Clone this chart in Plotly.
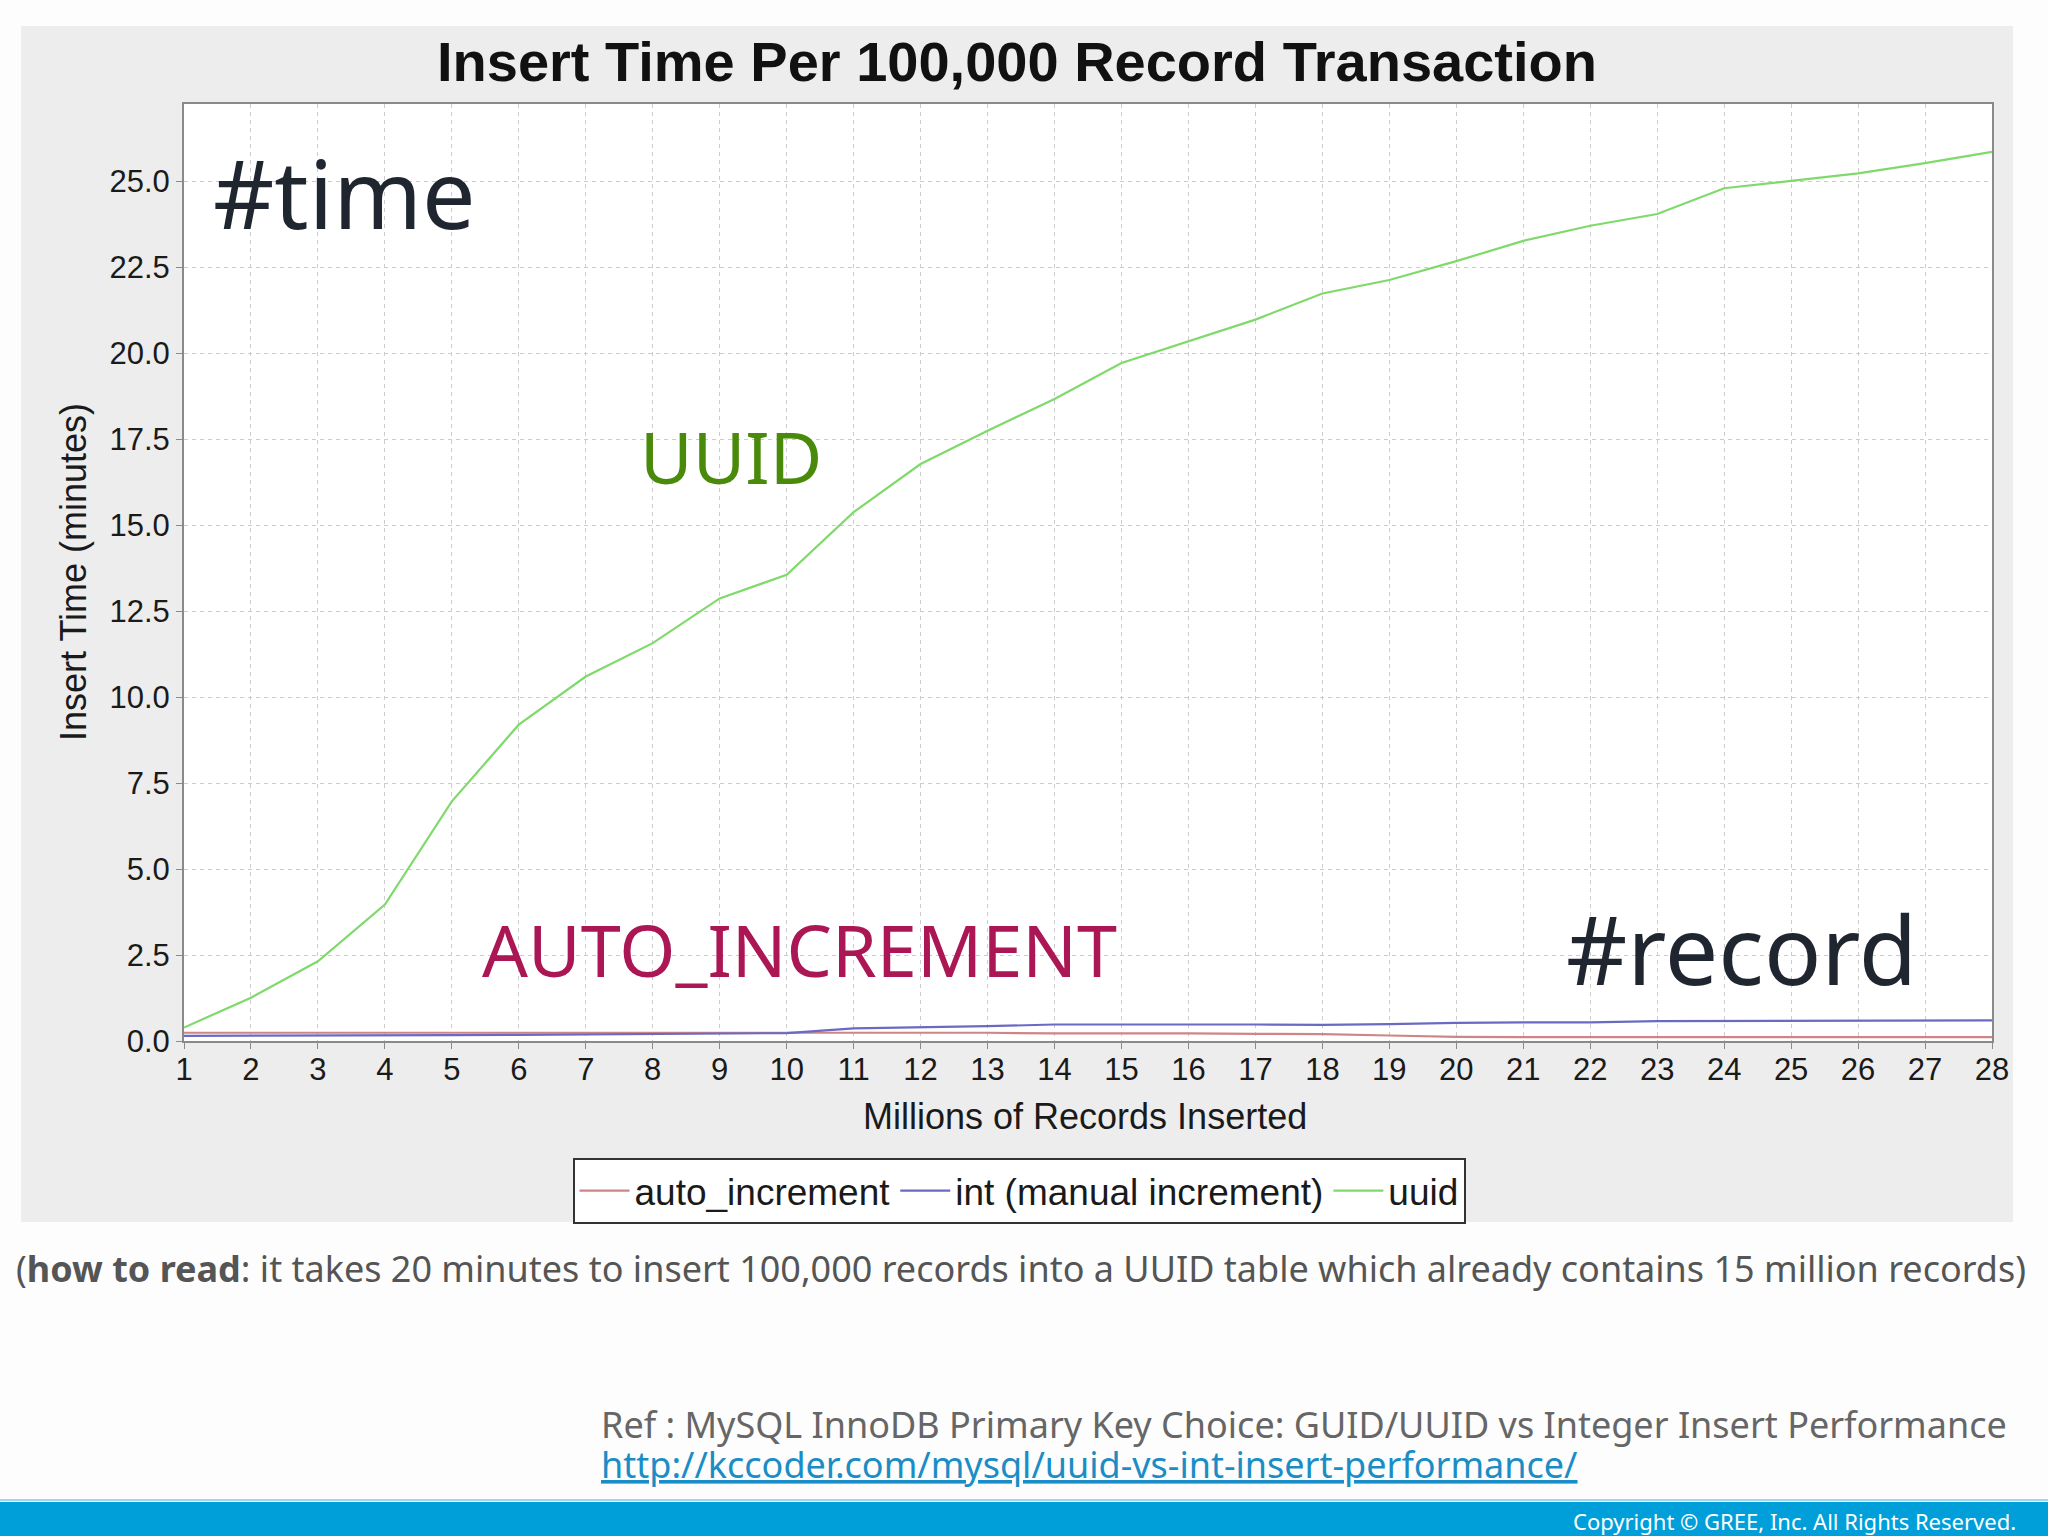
import plotly.graph_objects as go

# ---------------- data ----------------
records_millions = list(range(1, 29))
uuid_minutes = [0.39, 1.26, 2.32, 3.97, 6.97, 9.20, 10.60, 11.57, 12.87, 13.56,
                15.38, 16.78, 17.75, 18.67, 19.72, 20.35, 20.98, 21.74, 22.13, 22.68,
                23.27, 23.71, 24.05, 24.80, 25.02, 25.23, 25.53, 25.86]
auto_increment_minutes = [0.24, 0.24, 0.24, 0.25, 0.25, 0.26, 0.26, 0.26, 0.26, 0.26,
                          0.25, 0.25, 0.24, 0.22, 0.23, 0.22, 0.21, 0.20, 0.16, 0.12,
                          0.11, 0.11, 0.11, 0.11, 0.11, 0.11, 0.11, 0.11]
int_manual_minutes = [0.15, 0.15, 0.16, 0.16, 0.17, 0.18, 0.19, 0.20, 0.21, 0.23,
                      0.37, 0.39, 0.43, 0.48, 0.49, 0.48, 0.48, 0.47, 0.49, 0.53,
                      0.54, 0.54, 0.58, 0.58, 0.58, 0.59, 0.59, 0.60]
series_names = ["auto_increment", "int (manual increment)", "uuid"]
series_colors = ["#cf8585", "#6a6ac2", "#7fd96b"]

# ---------------- geometry helpers (pixel -> paper) ----------------
W, H = 2048, 1536
PL, PR, PT, PB = 184, 1992, 104, 1041


def px(x):
    return (x - PL) / (PR - PL)


def py(y):
    return (PB - y) / (PB - PT)


fig = go.Figure()
for name, vals, col in zip(series_names,
                           [auto_increment_minutes, int_manual_minutes, uuid_minutes],
                           series_colors):
    fig.add_trace(go.Scatter(x=records_millions, y=vals, mode="lines", name=name,
                             line=dict(color=col, width=2.2)))

CHART_FONT = "Liberation Sans, Arial, sans-serif"
SLIDE_FONT = "Noto Sans, Open Sans, sans-serif"

annotations = [
    dict(text="<b>Insert Time Per 100,000 Record Transaction</b>", x=px(1017), y=py(61.5),
         font=dict(family=CHART_FONT, size=56, color="#111111")),
    dict(text="Millions of Records Inserted", x=px(1085), y=py(1116),
         font=dict(family=CHART_FONT, size=36, color="#1a1a1a")),
    dict(text="Insert Time (minutes)", x=px(73), y=py(572), textangle=-90,
         font=dict(family=CHART_FONT, size=36, color="#1a1a1a")),
    dict(text="#time", x=px(344), y=py(192), font=dict(family=SLIDE_FONT, size=95, color="#1f2630")),
    dict(text="UUID", x=px(731), y=py(456), font=dict(family=SLIDE_FONT, size=72, color="#4a8a0a")),
    dict(text="AUTO_INCREMENT", x=px(799), y=py(949), font=dict(family=SLIDE_FONT, size=72, color="#ab1654")),
    dict(text="#record", x=px(1741), y=py(948), font=dict(family=SLIDE_FONT, size=95, color="#1f2630")),
    dict(text="(<b>how to read</b>: it takes 20 minutes to insert 100,000 records into a UUID table which already contains 15 million records)",
         x=px(1021), y=py(1268), font=dict(family=SLIDE_FONT, size=36, color="#555555")),
    dict(text="Ref : MySQL InnoDB Primary Key Choice: GUID/UUID vs Integer Insert Performance",
         x=px(599), y=py(1424), xanchor="left", font=dict(family=SLIDE_FONT, size=36, color="#666666")),
    dict(text="<u>http://kccoder.com/mysql/uuid-vs-int-insert-performance/</u>",
         x=px(599), y=py(1464), xanchor="left", font=dict(family=SLIDE_FONT, size=36, color="#1b8dc6")),
    dict(text="Copyright © GREE, Inc. All Rights Reserved.", x=px(2018), y=py(1521), xanchor="right",
         font=dict(family=SLIDE_FONT, size=22, color="#ffffff")),
]
for a in annotations:
    a.setdefault("xanchor", "center")
    a.update(xref="paper", yref="paper", yanchor="middle", showarrow=False)

shapes = [
    # gray chart panel
    dict(type="rect", xref="paper", yref="paper", x0=px(21), x1=px(2013), y0=py(1222), y1=py(26),
         fillcolor="#ededed", line=dict(width=0), layer="below"),
    # white plotting area on the panel
    dict(type="rect", xref="paper", yref="paper", x0=0, x1=1, y0=0, y1=1,
         fillcolor="#ffffff", line=dict(width=0), layer="below"),
    # footer bar
    dict(type="rect", xref="paper", yref="paper", x0=px(0), x1=px(2048), y0=py(1536), y1=py(1502),
         fillcolor="#009fda", line=dict(width=0), layer="above"),
    dict(type="line", xref="paper", yref="paper", x0=px(0), x1=px(2048), y0=py(1500), y1=py(1500),
         line=dict(color="#9fd8ee", width=2), layer="above"),
]

fig.update_layout(
    width=W, height=H,
    margin=dict(l=PL, r=W - PR, t=PT, b=H - PB, autoexpand=False),
    paper_bgcolor="#fdfdfd", plot_bgcolor="#ffffff",
    annotations=annotations, shapes=shapes,
    showlegend=True,
    legend=dict(orientation="h", x=px(1019), xanchor="center", y=py(1158), yanchor="top",
                bgcolor="#ffffff", bordercolor="#333333", borderwidth=2,
                font=dict(family=CHART_FONT, size=37, color="#1a1a1a"),
                itemwidth=50, traceorder="normal"),
    xaxis=dict(range=[1, 28], tick0=1, dtick=1, showgrid=True, gridcolor="#cccccc",
               griddash="4px,4px", gridwidth=1, zeroline=False,
               showline=True, linecolor="#8a8a8a", linewidth=2, mirror=True,
               ticks="outside", ticklen=6, tickcolor="#8a8a8a", ticklabelstandoff=-6,
               tickfont=dict(family=CHART_FONT, size=31, color="#1a1a1a")),
    yaxis=dict(range=[0, 27.25], tick0=0, dtick=2.5, tickformat=".1f", showgrid=True,
               gridcolor="#cccccc", griddash="4px,4px", gridwidth=1, zeroline=False,
               showline=True, linecolor="#8a8a8a", linewidth=2, mirror=True,
               ticks="outside", ticklen=6, tickcolor="#8a8a8a",
               tickfont=dict(family=CHART_FONT, size=31, color="#1a1a1a")),
)

fig.write_html("out.html", config={"displayModeBar": False},
               post_script="document.body.style.margin='0px';")
